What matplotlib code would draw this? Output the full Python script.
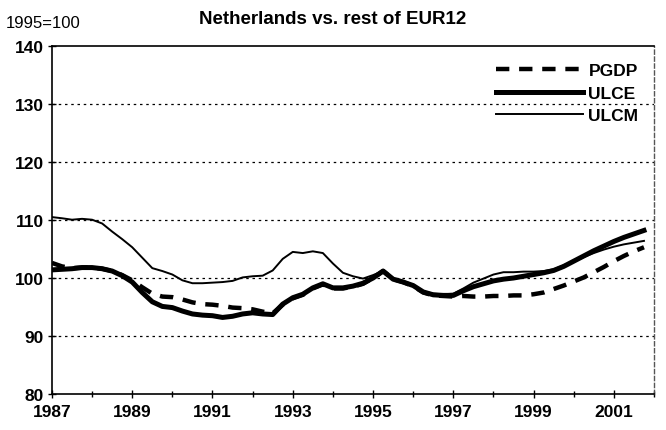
import matplotlib
matplotlib.use("Agg")
import matplotlib.pyplot as plt
import numpy as np

plt.rcParams['font.family'] = ['Liberation Sans', 'DejaVu Sans']

years = 1987 + np.arange(60) / 4.0

pgdp = [102.6, 102.0, 101.7, 101.8, 101.8, 101.6, 101.2, 100.5,
        99.6, 98.4, 97.3, 96.8, 96.7, 96.3, 95.8, 95.5,
        95.4, 95.2, 94.9, 94.8, 94.6, 94.2, 93.9, 95.4,
        96.5, 97.1, 98.2, 98.9, 98.2, 98.2, 98.5, 99.0,
        100.0, 101.2, 99.8, 99.3, 98.6, 97.5, 97.0, 96.9,
        96.8, 96.9, 96.8, 96.8, 96.9, 96.9, 97.0, 97.0,
        97.2, 97.5, 98.1, 98.7, 99.4, 100.1, 101.0, 101.9,
        102.9, 103.8, 104.6, 105.3]

ulce = [101.4, 101.5, 101.6, 101.8, 101.8, 101.6, 101.2, 100.4,
        99.3, 97.5, 95.9, 95.1, 94.9, 94.3, 93.8, 93.6,
        93.5, 93.2, 93.4, 93.8, 94.0, 93.8, 93.7, 95.5,
        96.6, 97.2, 98.3, 99.0, 98.3, 98.3, 98.6, 99.1,
        100.0, 101.2, 99.8, 99.3, 98.7, 97.6, 97.1, 97.0,
        97.0, 97.8, 98.5, 99.0, 99.5, 99.8, 100.0, 100.3,
        100.6, 100.9, 101.3, 102.0, 102.9, 103.8, 104.7, 105.5,
        106.3, 107.0, 107.6, 108.2]

ulcm = [110.5, 110.3, 110.05, 110.2, 110.05, 109.4, 108.0, 106.7,
        105.3, 103.5, 101.7, 101.2, 100.6, 99.6, 99.1, 99.1,
        99.2, 99.3, 99.5, 100.1, 100.3, 100.4, 101.3, 103.3,
        104.5, 104.3, 104.6, 104.3, 102.5, 100.9, 100.3, 99.9,
        100.5, 101.2, 100.0, 99.3, 98.8, 97.7, 97.3, 97.2,
        97.3, 98.2, 99.2, 99.9, 100.6, 101.0, 101.0, 101.1,
        101.1, 101.2, 101.5, 102.2, 102.9, 103.6, 104.3, 104.9,
        105.4, 105.8, 106.1, 106.4]

xticks = [1987, 1989, 1991, 1993, 1995, 1997, 1999, 2001]
yticks = [80, 90, 100, 110, 120, 130, 140]

fig = plt.figure(figsize=(6.66, 4.31), dpi=100)
ax = fig.add_axes([0.078, 0.0835, 0.904, 0.8075])

for y in [90, 100, 110, 120, 130]:
    ax.axhline(y, color='black', lw=0.9, ls=(0, (2, 3)), zorder=1)

ax.plot(years, pgdp, color='black', lw=3.2, ls=(0, (3, 2.2)), label='PGDP', zorder=3)
ax.plot(years, ulce, color='black', lw=3.6, label='ULCE', zorder=3)
ax.plot(years, ulcm, color='black', lw=1.4, label='ULCM', zorder=4)

ax.set_xlim(1987, 2002)
ax.set_ylim(80, 140)
ax.set_xticks(xticks)
ax.set_xticks(np.arange(1987, 2003), minor=True)
ax.set_yticks(yticks)
ax.tick_params(axis='both', which='major', direction='inout', length=6, width=1,
               labelsize=12.5)
ax.tick_params(axis='x', which='minor', direction='inout', length=4, width=1)
for lab in ax.get_xticklabels() + ax.get_yticklabels():
    lab.set_fontweight('bold')
ax.tick_params(axis='x', pad=4)
ax.tick_params(axis='y', pad=3)

for s in ['left', 'bottom', 'top']:
    ax.spines[s].set_linewidth(1.2)
    ax.spines[s].set_color('black')
ax.spines['right'].set_linestyle((0, (3, 2)))
ax.spines['right'].set_color('#555555')
ax.spines['right'].set_linewidth(1.0)

leg = ax.legend(loc='upper right', frameon=False, fontsize=12.5, handlelength=5.0,
                handletextpad=0.3, labelspacing=0.4, bbox_to_anchor=(1.0, 0.995))
for t in leg.get_texts():
    t.set_fontweight('bold')

fig.text(0.008, 0.945, '1995=100', fontsize=12, ha='left', va='center')
fig.text(0.5, 0.955, 'Netherlands vs. rest of EUR12', fontsize=13.5, fontweight='bold',
         ha='center', va='center')

fig.savefig('out.png', dpi=100)
